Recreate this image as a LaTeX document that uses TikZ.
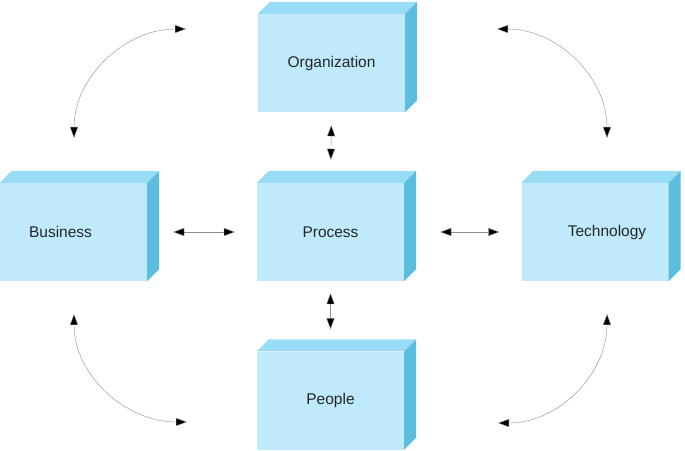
\documentclass[tikz,border=0pt]{standalone}
\usepackage{fontspec}
\setmainfont{Liberation Sans}
\usepackage{tikz}
\usetikzlibrary{arrows.meta,positioning,calc}
\definecolor{frontblue}{RGB}{190,234,252}
\definecolor{topblue}{RGB}{152,220,245}
\definecolor{sideblue}{RGB}{92,190,222}
\definecolor{linegrey}{RGB}{140,140,140}
\tikzset{
  base/.style={font=\fontsize{15.5}{18}\selectfont, align=center, text=black!85},
  box/.style={base, rectangle, fill=frontblue, draw=none, minimum width=147pt, minimum height=98pt, inner sep=0pt},
  topface/.style={fill=topblue},
  sideface/.style={fill=sideblue},
  arr2/.style={line width=0.4pt, draw=linegrey, arrows={Triangle[length=11pt,width=8pt,fill=black]-Triangle[length=11pt,width=8pt,fill=black]}},
}

\begin{document}
\begin{tikzpicture}[x=1pt,y=1pt]
  \useasboundingbox (0,0) rectangle (685,450);
  % the five boxes
  \node[box] (org) at (331.5,387) {Organization};
  \node[box] (proc) at (330.5,218) {Process};
  \node[box] (ppl) at (330.5,49.5) {People};
  \node[box,label={[base,xshift=-13pt]center:Business}] (biz) at (73.5,218) {};
  \node[box,label={[base,xshift=12pt]center:Technology}] (tech) at (595,218) {};
  \foreach \n in {org,proc,ppl,biz,tech}{
    \fill[topface] (\n.north west) -- ++(12,12) -- ($(\n.north east)+(12,12)$) -- (\n.north east) -- cycle;
    \fill[sideface] (\n.north east) -- ++(12,12) -- ($(\n.south east)+(12,12)$) -- (\n.south east) -- cycle;
  }
  % straight links
  \draw[arr2,shorten <=13pt,shorten >=23pt] (org.south) -- (proc.north);
  \draw[arr2,shorten <=12pt,shorten >=22pt] (proc.south) -- (ppl.north);
  \draw[arr2,shorten <=26pt,shorten >=22pt] (biz.east) -- (proc.west);
  \draw[arr2,shorten <=36pt,shorten >=22pt] (proc.east) -- (tech.west);
  % curved links
  \coordinate (tl1) at (186,421);
  \coordinate (tl2) at (74,312);
  \coordinate (tr1) at (497,421);
  \coordinate (tr2) at (607,312);
  \coordinate (bl1) at (74,136);
  \coordinate (bl2) at (187,28);
  \coordinate (br1) at (607,136);
  \coordinate (br2) at (498,27);
  \draw[arr2] (tl1) to[out=180,in=90] (tl2);
  \draw[arr2] (tr1) to[out=0,in=90] (tr2);
  \draw[arr2] (bl1) to[out=-90,in=180] (bl2);
  \draw[arr2] (br1) to[out=-90,in=0] (br2);
\end{tikzpicture}
\end{document}
